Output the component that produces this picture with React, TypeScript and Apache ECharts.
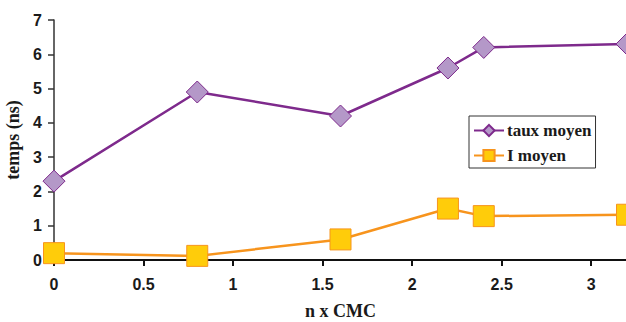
import React, { useEffect, useRef } from "react";
import * as echarts from "echarts";

const xValues = [0, 0.8, 1.6, 2.2, 2.4, 3.2];
const tauxMoyen = [2.3, 4.9, 4.2, 5.6, 6.2, 6.3];
const iMoyen = [0.2, 0.12, 0.6, 1.5, 1.28, 1.32];
const seriesNames = ["taux moyen", "I moyen"];
const xTitle = "n x CMC";
const yTitle = "temps (ns)";

export default function App() {
  const ref = useRef<HTMLDivElement>(null);
  useEffect(() => {
    if (!ref.current) return;
    const chart = echarts.init(ref.current, undefined, { renderer: "svg" });
    const tickFont = {
      fontFamily: "Liberation Sans, Arial, sans-serif",
      fontWeight: "bold" as const,
      fontSize: 16,
      color: "#1a1a1a",
    };
    chart.setOption({
      animation: false,
      backgroundColor: "#ffffff",
      grid: { left: 54, top: 20, right: -1, bottom: 62, containLabel: false, outerBoundsMode: "none" },
      legend: {
        orient: "vertical",
        left: 469,
        top: 116,
        width: 127,
        padding: [6, 4, 4, 4],
        itemWidth: 30,
        itemHeight: 14,
        itemGap: 8,
        borderColor: "#333",
        borderWidth: 1,
        backgroundColor: "#fff",
        data: seriesNames,
        textStyle: {
          fontFamily: "Liberation Serif, Times New Roman, serif",
          fontWeight: "bold",
          fontSize: 17,
          color: "#1a1a1a",
          padding: [0, 0, 0, -2],
        },
      },
      xAxis: {
        type: "value",
        min: 0,
        max: 3.2,
        interval: 0.5,
        name: xTitle,
        nameLocation: "middle",
        nameGap: 42,
        nameTextStyle: {
          fontFamily: "Liberation Serif, Times New Roman, serif",
          fontWeight: "bold",
          fontSize: 18,
          color: "#1a1a1a",
        },
        axisLine: { show: true, onZero: false, lineStyle: { color: "#111", width: 2 } },
        axisTick: { show: true, length: 6, lineStyle: { color: "#111", width: 2 } },
        axisLabel: { ...tickFont, margin: 16, showMaxLabel: false },
        splitLine: { show: false },
      },
      yAxis: {
        type: "value",
        min: 0,
        max: 7,
        interval: 1,
        name: yTitle,
        nameLocation: "middle",
        nameGap: 28,
        nameRotate: 90,
        nameTextStyle: {
          fontFamily: "Liberation Serif, Times New Roman, serif",
          fontWeight: "bold",
          fontSize: 18,
          color: "#1a1a1a",
        },
        axisLine: { show: true, lineStyle: { color: "#333", width: 1.5 } },
        axisTick: { show: true, length: 6, lineStyle: { color: "#333", width: 1.5 } },
        axisLabel: { ...tickFont, margin: 12 },
        splitLine: { show: false },
      },
      series: [
        {
          name: seriesNames[0],
          type: "line",
          data: xValues.map((x, i) => [x, tauxMoyen[i]]),
          symbol: "diamond",
          symbolSize: [22, 22],
          lineStyle: { color: "#7E2A8C", width: 2.5 },
          itemStyle: { color: "#B498C8", borderColor: "#7E2A8C", borderWidth: 1 },
          z: 3,
        },
        {
          name: seriesNames[1],
          type: "line",
          data: xValues.map((x, i) => [x, iMoyen[i]]),
          symbol: "rect",
          symbolSize: 21,
          lineStyle: { color: "#F7941D", width: 2.5 },
          itemStyle: { color: "#FFCC0A", borderColor: "#F7941D", borderWidth: 1 },
          z: 4,
        },
      ],
    });
    return () => chart.dispose();
  }, []);
  return <div ref={ref} style={{ width: 626, height: 322, position: "absolute", left: 0, top: 0 }} />;
}
